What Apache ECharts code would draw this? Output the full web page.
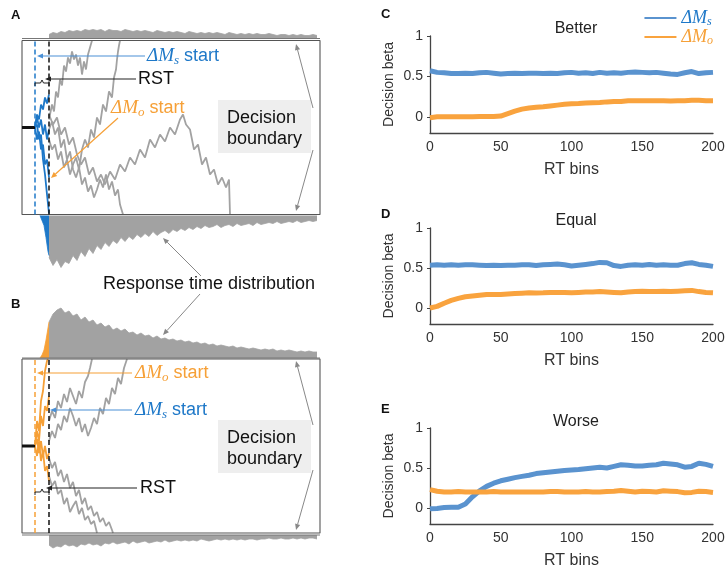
<!DOCTYPE html>
<html>
<head>
<meta charset="utf-8">
<script src="https://cdn.jsdelivr.net/npm/echarts@6/dist/echarts.min.js"></script>
<style>
  html, body { margin: 0; padding: 0; background: #fff; }
  #main { width: 726px; height: 568px; }
</style>
</head>
<body>
<div id="main"></div>
<script>
// ---- right panels (C, D, E): decision beta per RT bin ----
var rtBins = [0,5,10,15,20,25,30,35,40,45,50,55,60,65,70,75,80,85,90,95,100,105,110,115,120,125,130,135,140,145,150,155,160,165,170,175,180,185,190,195,200];

var betterMs = [0.57,0.55,0.545,0.535,0.535,0.54,0.535,0.545,0.55,0.54, 0.53,0.535,0.54,0.535,0.54,0.54,0.535,0.54,0.535,0.545, 0.55,0.54,0.545,0.535,0.55,0.54,0.545,0.54,0.55,0.555, 0.55,0.545,0.55,0.54,0.53,0.525,0.545,0.56,0.535,0.545, 0.55];
var betterMo = [-0.01,0,0,0,0,0,0.002,0.003,0.003,0.003, 0.01,0.04,0.07,0.095,0.11,0.118,0.125,0.135,0.145,0.155, 0.162,0.165,0.17,0.175,0.178,0.185,0.19,0.19,0.198,0.2, 0.2,0.198,0.2,0.198,0.195,0.198,0.2,0.205,0.205,0.2, 0.2];
var equalMs = [0.535,0.54,0.535,0.54,0.535,0.54,0.54,0.535,0.53,0.535, 0.53,0.535,0.535,0.54,0.54,0.53,0.54,0.545,0.55,0.54, 0.525,0.535,0.545,0.555,0.57,0.565,0.53,0.52,0.535,0.54, 0.535,0.545,0.535,0.54,0.535,0.535,0.555,0.565,0.545,0.535, 0.52];
var equalMo = [0,0.02,0.06,0.095,0.12,0.14,0.15,0.16,0.17,0.17, 0.17,0.175,0.18,0.185,0.19,0.188,0.19,0.195,0.195,0.195, 0.19,0.195,0.2,0.2,0.205,0.2,0.195,0.19,0.2,0.205, 0.21,0.205,0.205,0.21,0.205,0.21,0.215,0.22,0.205,0.195, 0.19];
var worseMs = [-0.01,-0.005,0.005,0.008,0.01,0.05,0.14,0.215,0.27,0.31, 0.34,0.36,0.38,0.395,0.41,0.43,0.44,0.45,0.46,0.47, 0.475,0.48,0.49,0.5,0.51,0.5,0.52,0.54,0.535,0.525, 0.525,0.535,0.54,0.56,0.55,0.54,0.51,0.52,0.56,0.545, 0.52];
var worseMo = [0.23,0.21,0.2,0.2,0.205,0.2,0.2,0.2,0.2,0.205, 0.2,0.2,0.2,0.2,0.2,0.2,0.2,0.205,0.205,0.2, 0.2,0.2,0.205,0.2,0.2,0.205,0.21,0.22,0.21,0.2, 0.21,0.205,0.2,0.215,0.21,0.205,0.19,0.195,0.21,0.205, 0.195];

var yTicks = [0, 0.5, 1];
var panelTitles = ['Better', 'Equal', 'Worse'];

// ---- left panels (A, B): drift diffusion schematic ----
// time in arbitrary units (0..298), evidence in units, bounds at +-87
var bound = 87;
var startT = 13;   // coloured dashed line (start of first attribute)
var rstT = 27;     // black dashed line

var startLine = [[0, 0], [13, 0]];

// A: blue walks before RST, grey walks after
var walkA_blue1 = [[13,0],[15,13],[17,8],[19,23],[21,18],[23,30],[25,24],[27,33]];
var walkA_blue2 = [[13,0],[15,-12],[17,-4],[19,-22],[21,-17],[23,-37],[25,-32],[27,-50]];
var walkA_blue3 = [[13,0],[15,3],[17,-12],[19,-7],[21,-32],[23,-47],[25,-67],[27,-86]];
var walkA_blue4 = [[13,0],[15,10],[17,0],[19,8],[21,-7],[23,3],[25,-12],[27,-2]];
var walkA_1 = [[27,8],[30,23],[32,16],[34,36],[36,30],[38,48],[40,42],[42,62],[44,56],[46,70],[48,64],[50,76],[52,68],[54,73],[56,62],[58,70],[60,53],[62,66],[64,58],[66,73],[68,80],[70,87]];
var walkA_2 = [[27,-12],[30,-22],[33,-17],[36,-32],[39,-24],[42,-40],[45,-32],[48,-47],[51,-37],[54,-30],[57,-42],[60,-22],[63,-12],[66,-20],[69,-2],[72,-10],[75,10],[78,3],[81,23],[84,16],[87,36],[90,30],[92,50],[94,58],[95,68],[96,76],[97,82],[98,87]];
var walkA_3 = [[27,-2],[30,6],[33,-7],[36,0],[39,-20],[42,-12],[45,-32],[48,-24],[51,-42],[54,-50],[57,-40],[60,-57],[63,-50],[66,-64],[69,-58],[72,-70],[75,-62],[78,-52],[81,-60],[84,-47],[87,-62],[90,-54],[93,-68],[96,-62],[98,-77],[101,-87]];
var walkA_4 = [[27,13],[31,3],[35,10],[39,-7],[43,0],[47,-17],[51,-10],[55,-27],[59,-37],[63,-30],[67,-47],[71,-40],[75,-54],[79,-47],[83,-57],[88,-44],[93,-52],[98,-37],[103,-44],[108,-30],[113,-37],[118,-22],[123,-30],[128,-12],[133,-20],[138,-7],[143,-14],[148,0],[153,-7],[158,8],[161,13],[164,3],[168,-2],[172,-22],[176,-17],[180,-37],[184,-30],[188,-47],[192,-42],[196,-57],[200,-50],[204,-60],[207,-52],[208,-87]];

// B: orange walks before RST, grey walks after
var walkB_orange1 = [[13,0],[15,25],[17,15],[19,45],[21,55],[23,75],[25,85],[26,87]];
var walkB_orange2 = [[13,0],[15,15],[17,5],[19,30],[21,20],[23,40],[25,35],[27,50]];
var walkB_orange3 = [[13,0],[15,-10],[17,5],[19,-15],[21,-5],[23,-25],[25,-20],[27,-35]];
var walkB_orange4 = [[13,0],[15,7],[17,-7],[19,5],[21,-10],[23,0],[25,-13],[27,-7]];
var walkB_1 = [[27,5],[30,15],[33,8],[36,22],[39,16],[42,30],[45,24],[48,38],[51,30],[54,20],[57,28],[60,14],[63,22],[66,10],[69,18],[72,28],[75,22],[78,38],[81,32],[84,48],[87,42],[90,58],[93,52],[96,68],[99,62],[102,78],[105,87]];
var walkB_2 = [[27,25],[30,35],[33,28],[36,45],[39,38],[42,52],[45,44],[48,58],[51,50],[54,42],[57,55],[60,48],[63,64],[66,70],[68,78],[70,87]];
var walkB_3 = [[27,-30],[30,-40],[33,-35],[36,-48],[39,-44],[42,-58],[45,-52],[48,-66],[51,-60],[54,-55],[57,-68],[60,-62],[63,-74],[66,-70],[69,-78],[72,-75],[75,-87]];
var walkB_4 = [[27,-12],[30,-22],[33,-16],[36,-30],[39,-24],[42,-36],[45,-28],[48,-42],[51,-36],[54,-50],[57,-44],[60,-58],[63,-52],[66,-64],[69,-60],[72,-70],[75,-66],[78,-76],[81,-72],[84,-80],[87,-76],[90,-84],[91,-87]];

// response time histograms (bin counts as bar heights), bins of 4 from t=27
var histStart = 27, histWidth = 4;
var histA_top = [4,6,5,7,6,8,7,8,7,9, 8,9,8,9,7,9,8,8,7,9, 8,7,8,7,8,7,6,8,7,6, 7,6,7,6,5,7,6,5,6,5, 6,5,6,5,4,6,5,4,5,4, 5,4,5,4,4,5,4,3,4,4, 3,4,3,4,3,3,4,3];
var histA_bottom = [42,50,44,52,46,48,40,45,36,41, 33,38,30,34,27,31,25,28,22,26, 21,24,19,22,18,21,16,20,17,15, 18,14,16,13,15,12,14,11,13,10, 12,11,9,12,10,9,11,8,10,9, 8,10,7,9,8,7,8,6,8,7, 6,7,5,7,6,5,6,5];
var histB_top = [36,44,48,50,45,47,42,44,38,41, 36,38,33,35,31,33,28,30,27,29, 25,26,23,25,22,23,20,22,19,20, 18,19,17,18,16,17,15,16,14,15, 13,14,12,13,12,11,12,10,11,10, 9,10,9,8,9,8,9,7,8,7, 8,7,6,7,6,7,6,6];
var histB_bottom = [10,13,11,12,9,11,10,12,9,10, 8,10,9,11,8,9,7,9,8,7, 9,6,8,7,6,8,7,6,7,5, 7,6,5,6,5,6,5,6,4,5, 6,5,4,5,4,5,4,5,4,5, 4,4,5,4,4,3,4,4,3,4, 4,3,4,3,4,3,3,4];
// early part of the histogram coloured by the first attribute
var rampBins = [18,20,22,24,26,27];
var rampA = [0,2,10,22,36,40];
var rampB = [0,3,8,18,30,36];

var sans = "'Liberation Sans', Arial, sans-serif";
var serif = "'Liberation Serif', 'DejaVu Serif', serif";
var blueLine = '#5a93cf', orangeLine = '#f9a33e';
var blueNote = '#1e78c8', orangeNote = '#f6a037';
var grey = '#a2a2a2';

var myChart = echarts.init(document.getElementById('main'));

function walk(grid, data, color, width, z) {
  return { type: 'line', xAxisIndex: grid, yAxisIndex: grid, data: data, symbol: 'none',
    lineStyle: { color: color, width: width || 1.8 }, silent: true, z: z || 3 };
}

function hist(grid, heights, base, sign, color, bins) {
  var data = heights.map(function(h, i) {
    var t = bins ? bins[i] : histStart + i * histWidth;
    return [t, base + sign * h];
  });
  return { type: 'line', xAxisIndex: grid, yAxisIndex: grid, data: data, symbol: 'none',
    silent: true, z: 1,
    lineStyle: { width: 0.8, color: color },
    areaStyle: { origin: base, color: color, opacity: 1 } };
}

function seg(grid, data, color, width, type, z) {
  return { type: 'line', xAxisIndex: grid, yAxisIndex: grid, data: data, symbol: 'none',
    lineStyle: { color: color, width: width, type: type || 'solid' }, silent: true, z: z || 4 };
}

function zip(xs, ys) { return xs.map(function(x, i) { return [x, ys[i]]; }); }

// arrow helper for annotations (pixel positions)
function arrow(x1, y1, x2, y2, color, w) {
  var a = Math.atan2(y2 - y1, x2 - x1), L = 6, H = 2.6;
  var bx = x2 - L * Math.cos(a), by = y2 - L * Math.sin(a);
  return [
    { type: 'line', shape: { x1: x1, y1: y1, x2: bx, y2: by }, style: { stroke: color, lineWidth: w || 1 }, z: 20 },
    { type: 'polygon', shape: { points: [[x2, y2], [bx + H * Math.sin(a), by - H * Math.cos(a)], [bx - H * Math.sin(a), by + H * Math.cos(a)]] },
      style: { fill: color }, z: 20 }
  ];
}

function deltaText(x, y, sub, color, withStart) {
  return { type: 'text', x: x, y: y, z: 20, style: {
    text: '{m|ΔM}{s|' + sub + '}' + (withStart ? '{t| start}' : ''),
    verticalAlign: 'middle', align: 'left',
    rich: {
      m: { fontFamily: serif, fontStyle: 'italic', fontSize: 19, fill: color, lineHeight: 22 },
      s: { fontFamily: serif, fontStyle: 'italic', fontSize: 13, fill: color, lineHeight: 12, verticalAlign: 'bottom' },
      t: { fontFamily: sans, fontSize: 18, fill: color, lineHeight: 22 }
    } } };
}

function plainText(x, y, text, color, size) {
  return { type: 'text', x: x, y: y, z: 20, style: { text: text, fill: color || '#111', fontFamily: sans,
    fontSize: size || 18, verticalAlign: 'middle', align: 'left', lineHeight: 21 } };
}

function bracket(x1, x2, y) {
  var m = (x1 + x2) / 2;
  return { type: 'polyline', z: 20, shape: { points: [[x1, y + 3], [x1, y], [m - 1.5, y], [m, y - 3], [m + 1.5, y], [x2, y], [x2, y + 3]] },
    style: { stroke: '#222', lineWidth: 1, fill: null } };
}

function boundaryBox(y) {
  return [
    { type: 'rect', shape: { x: 218, y: y, width: 93, height: 53 }, style: { fill: '#eeeeee' }, z: 15 },
    { type: 'text', x: 227, y: y + 8, z: 20, style: { text: 'Decision\nboundary', fill: '#111', fontFamily: sans, fontSize: 18, lineHeight: 21, verticalAlign: 'top' } }
  ];
}

var boxData = [[0, bound], [298, bound], [298, -bound], [0, -bound], [0, bound]];

var grids = [
  { left: 22, width: 298, top: 17.5, height: 260 },
  { left: 22, width: 298, top: 296, height: 260 },
  { left: 430, width: 283, top: 36, height: 97 },
  { left: 430, width: 283, top: 228, height: 96 },
  { left: 430, width: 283, top: 428, height: 96 }
];
grids.forEach(function(g) { g.outerBoundsMode = 'none'; g.containLabel = false; });

var xAxes = [
  { gridIndex: 0, type: 'value', min: 0, max: 298, show: false },
  { gridIndex: 1, type: 'value', min: 0, max: 298, show: false }
];
var yAxes = [
  { gridIndex: 0, type: 'value', min: -150, max: 110, show: false },
  { gridIndex: 1, type: 'value', min: -110, max: 150, show: false }
];
for (var g = 2; g < 5; g++) {
  xAxes.push({ gridIndex: g, type: 'value', min: 0, max: 200, interval: 50,
    axisLine: { onZero: false, lineStyle: { color: '#444', width: 1.3 } },
    axisTick: { show: false }, splitLine: { show: false },
    axisLabel: { fontSize: 14, color: '#333', margin: 7, fontFamily: sans },
    name: 'RT bins', nameLocation: 'middle', nameGap: 29,
    nameTextStyle: { fontSize: 16, color: '#333', fontFamily: sans } });
  yAxes.push({ gridIndex: g, type: 'value', min: -0.2, max: 1,
    axisLine: { show: true, onZero: false, lineStyle: { color: '#444', width: 1.3 } },
    axisTick: { show: true, length: 3, customValues: yTicks, lineStyle: { color: '#444' } },
    splitLine: { show: false },
    axisLabel: { customValues: yTicks, fontSize: 14, color: '#333', margin: 7, fontFamily: sans },
    name: 'Decision beta', nameLocation: 'middle', nameGap: 34,
    nameTextStyle: { fontSize: 14, color: '#333', fontFamily: sans } });
}

var series = [
  // panel A
  hist(0, histA_top, bound + 2, 1, grey),
  hist(0, histA_bottom, -bound - 1, -1, grey),
  hist(0, rampA, -bound - 1, -1, blueNote, rampBins),
  seg(0, [[0, bound + 2], [298, bound + 2]], '#777', 1, 'solid', 2),
  seg(0, boxData, '#555', 1.1),
  seg(0, startLine, '#111', 3),
  seg(0, [[startT, -bound], [startT, bound]], blueNote, 1.5, [5, 3]),
  seg(0, [[rstT, -bound], [rstT, bound]], '#111', 1.5, [5, 3]),
  walk(0, walkA_1, grey), walk(0, walkA_2, grey), walk(0, walkA_3, grey), walk(0, walkA_4, grey),
  walk(0, walkA_blue1, blueNote), walk(0, walkA_blue2, blueNote),
  walk(0, walkA_blue3, blueNote), walk(0, walkA_blue4, blueNote),
  // panel B
  hist(1, histB_top, bound + 1, 1, grey),
  hist(1, histB_bottom, -bound - 2, -1, grey),
  hist(1, rampB, bound + 1, 1, orangeNote, rampBins),
  seg(1, [[0, bound + 1], [298, bound + 1]], '#777', 1, 'solid', 2),
  seg(1, [[0, -bound - 2], [298, -bound - 2]], '#777', 1, 'solid', 2),
  seg(1, boxData, '#555', 1.1),
  seg(1, startLine, '#111', 3),
  seg(1, [[startT, -bound], [startT, bound]], orangeNote, 1.5, [5, 3]),
  seg(1, [[rstT, -bound], [rstT, bound]], '#111', 1.5, [5, 3]),
  walk(1, walkB_1, grey), walk(1, walkB_2, grey), walk(1, walkB_3, grey), walk(1, walkB_4, grey),
  walk(1, walkB_orange1, orangeNote), walk(1, walkB_orange2, orangeNote),
  walk(1, walkB_orange3, orangeNote), walk(1, walkB_orange4, orangeNote)
];

var panels = [[betterMs, betterMo], [equalMs, equalMo], [worseMs, worseMo]];
panels.forEach(function(p, i) {
  series.push({ name: 'ΔMs', type: 'line', xAxisIndex: i + 2, yAxisIndex: i + 2, data: zip(rtBins, p[0]),
    symbol: 'none', lineStyle: { color: blueLine, width: 5 }, itemStyle: { color: blueLine }, z: 5 });
  series.push({ name: 'ΔMo', type: 'line', xAxisIndex: i + 2, yAxisIndex: i + 2, data: zip(rtBins, p[1]),
    symbol: 'none', lineStyle: { color: orangeLine, width: 5 }, itemStyle: { color: orangeLine }, z: 5 });
});

var letterStyle = { fontSize: 13, fontWeight: 'bold', color: '#111', fontFamily: sans };
var titles = [
  { text: 'A', left: 6, top: 4, textStyle: letterStyle },
  { text: 'B', left: 6, top: 293, textStyle: letterStyle },
  { text: 'C', left: 376, top: 3, textStyle: letterStyle },
  { text: 'D', left: 376, top: 203, textStyle: letterStyle },
  { text: 'E', left: 376, top: 398, textStyle: letterStyle }
];
var titleTops = [16, 208, 409];
panelTitles.forEach(function(t, i) {
  titles.push({ text: t, left: 571, top: titleTops[i], textAlign: 'center',
    textStyle: { fontSize: 16, fontWeight: 'normal', color: '#222', fontFamily: sans } });
});

var graphics = []
  // panel A notes
  .concat([deltaText(147, 56, 's', blueNote, true)], arrow(145, 56, 37, 56, '#4a90d6', 1.2))
  .concat([plainText(138, 79, 'RST')], arrow(136, 79, 45, 79, '#222', 1.2), [bracket(35, 49, 83)])
  .concat([deltaText(111, 108, 'o', orangeNote, true)], arrow(118, 118, 51, 178, orangeNote, 1.2))
  .concat(boundaryBox(100), arrow(313, 108, 296, 44, '#888', 1), arrow(313, 150, 296, 211, '#888', 1))
  .concat([plainText(103, 284, 'Response time distribution')],
          arrow(201, 276, 163, 238, '#888', 1), arrow(200, 294, 163, 335, '#888', 1))
  // panel B notes
  .concat([deltaText(135, 373, 'o', orangeNote, true)], arrow(132, 373, 37, 373, orangeNote, 1.2))
  .concat([deltaText(135, 410, 's', blueNote, true)], arrow(132, 410, 50, 410, '#4a90d6', 1.2))
  .concat(boundaryBox(420), arrow(313, 425, 296, 361, '#888', 1), arrow(313, 470, 296, 530, '#888', 1))
  .concat([plainText(140, 488, 'RST')], arrow(137, 488, 46, 488, '#222', 1.2), [bracket(35, 49, 492)]);

myChart.setOption({
  animation: false,
  backgroundColor: '#fff',
  title: titles,
  legend: {
    data: ['ΔMs', 'ΔMo'], orient: 'vertical', right: 8, top: 4,
    icon: 'rect', itemWidth: 32, itemHeight: 2, itemGap: 0,
    formatter: function(n) { return n === 'ΔMs' ? '{bm|ΔM}{bs|s}' : '{om|ΔM}{os|o}'; },
    textStyle: { rich: {
      bm: { fontFamily: serif, fontStyle: 'italic', fontSize: 18, color: blueNote, lineHeight: 20 },
      bs: { fontFamily: serif, fontStyle: 'italic', fontSize: 12, color: blueNote, lineHeight: 11, verticalAlign: 'bottom' },
      om: { fontFamily: serif, fontStyle: 'italic', fontSize: 18, color: orangeNote, lineHeight: 20 },
      os: { fontFamily: serif, fontStyle: 'italic', fontSize: 12, color: orangeNote, lineHeight: 11, verticalAlign: 'bottom' }
    } }
  },
  grid: grids,
  xAxis: xAxes,
  yAxis: yAxes,
  series: series,
  graphic: graphics
});
</script>
</body>
</html>
